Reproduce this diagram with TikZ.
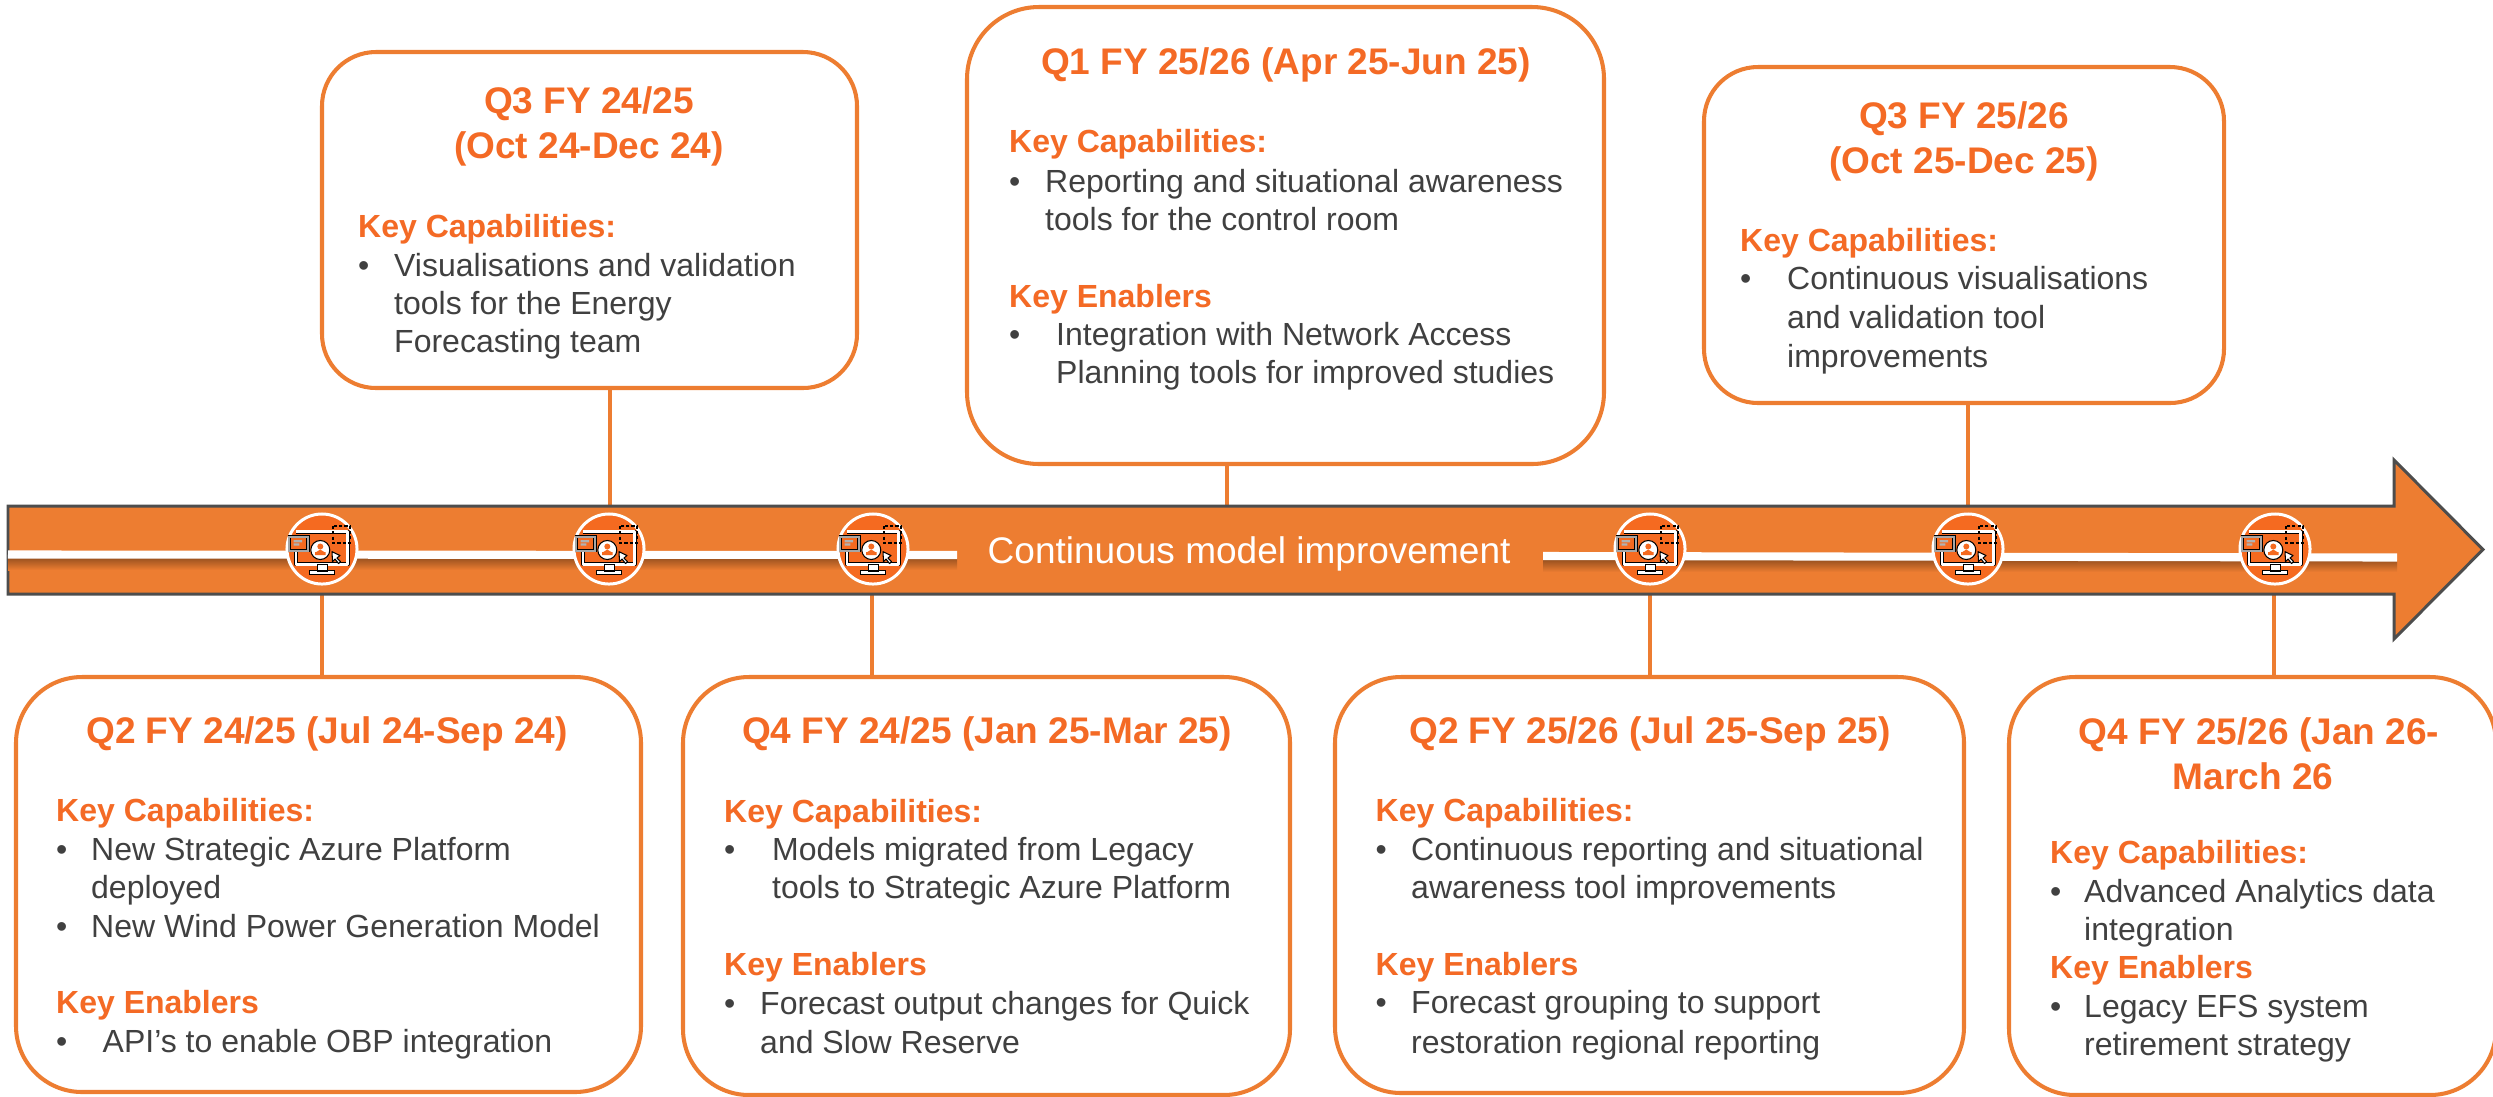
\documentclass[tikz,border=0pt]{standalone}
\usepackage{xcolor}
\usepackage{fontspec}
\setmainfont{Liberation Sans}
\usepackage{tikz}

\definecolor{cardline}{HTML}{ED7D31}
\definecolor{headtext}{HTML}{F46A25}
\definecolor{bodytext}{HTML}{404040}
\definecolor{baredge}{HTML}{4D4D4D}
\definecolor{barshadow}{HTML}{9A5220}
\definecolor{iconfill}{HTML}{F56A20}

\tikzset{
	card/.style={draw=cardline, fill=white, line width=1.15pt},
	stem/.style={draw=cardline, line width=1.15pt},
	cardtitle/.style={anchor=base, inner sep=0pt, text=headtext, font=\fontsize{10.53}{12}\selectfont\bfseries},
	keyhead/.style={anchor=base west, inner sep=0pt, xshift=-0.015cm, text=headtext, font=\fontsize{9.1}{11}\selectfont\bfseries},
	bodyline/.style={anchor=base west, inner sep=0pt, xshift=-0.015cm, text=bodytext, font=\fontsize{9.1}{11}\selectfont},
	milestone/.style={circle, draw=white, fill=iconfill, line width=0.85pt, minimum size=0.7cm, inner sep=0pt},
	monitoricon/.pic={
		% Monitor
		\draw[black, line width=1.1pt, line join=round] (-26,2) -- (-26,15.3) -- (25.7,15.3) -- (25.7,-17.3) -- (-26,-17.3);
		\draw[white, line width=0.8pt, line join=round] (-26,2) -- (-26,15.3) -- (25.7,15.3) -- (25.7,-17.3) -- (-26,-17.3);
		\draw[black, fill=white, line width=0.25pt] (-5,15.8) rectangle (5,22) (-12.7,21.7) rectangle (12.7,25);
		% Panel
		\draw[black, fill=iconfill, line width=1pt] (-32.7,-12.3) rectangle (-14,1.7);
		\draw[gray!70, line width=0.5pt] (-32.7,-12.3) rectangle (-14,1.7);
		\fill[gray!60] (-28.3,-9) rectangle (-20,-6.7) (-28.3,-5.7) rectangle (-22.7,-3.3);
		% Person
		\draw[black, fill=white, line width=0.3pt] (-1.7,1) circle (9.5);
		\fill[iconfill] (-1.7,-2.5) circle (3);
		\fill[iconfill] (-7,6) rectangle (3.6,3) (-6,3.2) -- (-1.7,0.5) -- (2.6,3.2) -- cycle;
		% Cursor
		\draw[black, fill=white, line width=0.3pt, line join=round] (10,2.7) -- (10.5,12.5) -- (13,10) -- (16.5,14.5) -- (18.5,12.5) -- (15,9) -- (18,6.5) -- cycle;
		% Dots
		\draw[black, line width=0.6pt, dash pattern=on 0.9pt off 0.6pt] (11,-23) rectangle (28,-6.3);
	}
}

\begin{document}
\begin{tikzpicture}[x=0.01cm, y=-0.01cm]
	\useasboundingbox (0,0) rectangle (2493,1096);

	% Cards
	\foreach \id/\cx/\cy/\w/\h/\r in {
		qa/328.5/884.5/625/415/66,
		qb/589.5/220/535/336/54,
		qc/986.5/886/607/418/66,
		qd/1285.5/235.5/637/457/72,
		qe/1649.5/885/629/416/66,
		qf/1964/235/520/336/54,
		qg/2252.5/886/487/418/66
	}{
		\node[card, minimum width=\w*0.01cm, minimum height=\h*0.01cm, rounded corners=\r*0.01cm] (card\id) at (\cx,\cy) {};
	}

	% Stems
	\foreach \id/\x in {qa/322, qc/872, qe/1650, qg/2274}{
		\coordinate (foot\id) at (\x,590);
		\draw[stem] (foot\id) -- (foot\id |- card\id.north);
	}
	\foreach \id/\x in {qb/610, qd/1227, qf/1968}{
		\coordinate (foot\id) at (\x,510);
		\draw[stem] (foot\id) -- (foot\id |- card\id.south);
	}

	% Arrow
	\draw[fill=cardline, draw=baredge, line width=0.85pt, line join=miter] (8,506) -- (2394,506) -- (2394,460) -- (2483,549.5) -- (2394,639) -- (2394,594) -- (8,594) -- cycle;
	\shade[top color=barshadow, bottom color=cardline] (8,558) rectangle (957,570);
	\shade[top color=barshadow, bottom color=cardline] (1543,560) rectangle (2397,572);
	\draw[white, line width=2.3pt] (8,554.5) -- (957,555);
	\draw[white, line width=2.3pt] (1543,556) -- (2397,557.5);
	\node[anchor=base west, inner sep=0pt, text=white, font=\fontsize{10.53}{12}\selectfont] (barlabel) at (987,563) {Continuous model improvement};

	% Milestones
	\foreach \x [count=\n] in {322, 609, 873, 1650, 1968, 2275}{
		\node[milestone] (mile\n) at (\x,549) {};
		\pic at (mile\n) {monitoricon};
	}

	% Titles
	\foreach \x/\y/\t [count=\n] in {
		327/743/{Q2 FY 24/25 (Jul 24-Sep 24)},
		589/113/{Q3 FY 24/25},
		589/158/{(Oct 24-Dec 24)},
		987/743/{Q4 FY 24/25 (Jan 25-Mar 25)},
		1286/74/{Q1 FY 25/26 (Apr 25-Jun 25)},
		1650/743/{Q2 FY 25/26 (Jul 25-Sep 25)},
		1964/128/{Q3 FY 25/26},
		1964/173/{(Oct 25-Dec 25)},
		2259/744/{Q4 FY 25/26 (Jan 26-},
		2253/789/{March 26}
	}{
		\node[cardtitle] (title\n) at (\x,\y) {\t};
	}

	% Key headings
	\foreach \x/\y/\t [count=\n] in {
		57/821/{Key Capabilities:},
		57/1013/{Key Enablers},
		359/237/{Key Capabilities:},
		725/822/{Key Capabilities:},
		725/975/{Key Enablers},
		1010/152/{Key Capabilities:},
		1010/307/{Key Enablers},
		1376.5/821/{Key Capabilities:},
		1376.5/975/{Key Enablers},
		1741/251/{Key Capabilities:},
		2051/863/{Key Capabilities:},
		2051/978/{Key Enablers}
	}{
		\node[keyhead] (key\n) at (\x,\y) {\t};
	}

	% Bullets
	\foreach \x/\y [count=\n] in {
		57/860, 57/937, 57/1052,
		359/276,
		725/860, 725/1014,
		1010/192, 1010/345,
		1376.5/860, 1376.5/1013,
		1741/289,
		2051/902, 2051/1017
	}{
		\node[bodyline] (bullet\n) at (\x,\y) {•};
	}

	% Lines
	\foreach \x/\y/\t [count=\n] in {
		92/860/{New Strategic Azure Platform},
		92/898/{deployed},
		92/937/{New Wind Power Generation Model},
		103.5/1052/{API’s to enable OBP integration},
		395/276/{Visualisations and validation},
		395/314/{tools for the Energy},
		395/352/{Forecasting team},
		773/860/{Models migrated from Legacy},
		773/898/{tools to Strategic Azure Platform},
		761/1014/{Forecast output changes for Quick},
		761/1053/{and Slow Reserve},
		1046/192/{Reporting and situational awareness},
		1046/230/{tools for the control room},
		1057/345/{Integration with Network Access},
		1057/383/{Planning tools for improved studies},
		1412/860/{Continuous reporting and situational},
		1412/898/{awareness tool improvements},
		1412/1013/{Forecast grouping to support},
		1412/1053/{restoration regional reporting},
		1788/289/{Continuous visualisations},
		1788/328/{and validation tool},
		1788/367/{improvements},
		2085/902/{Advanced Analytics data},
		2085/940/{integration},
		2085/1017/{Legacy EFS system},
		2085/1055/{retirement strategy}
	}{
		\node[bodyline] (line\n) at (\x,\y) {\t};
	}
\end{tikzpicture}
\end{document}
